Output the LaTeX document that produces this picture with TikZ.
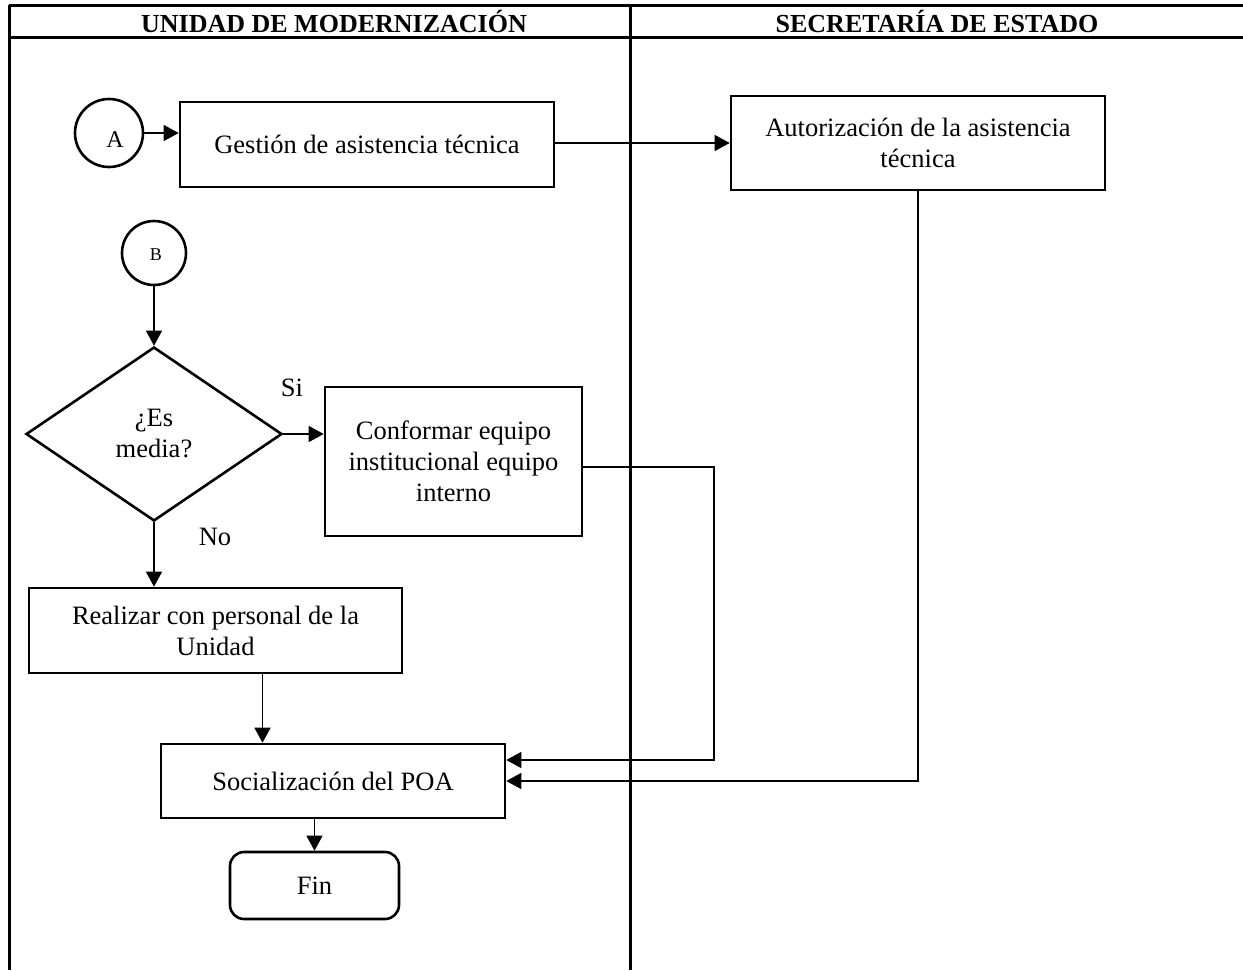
\documentclass[tikz,border=0pt]{standalone}
\usepackage{fontspec}
\setmainfont{Liberation Serif}
\usetikzlibrary{shapes.geometric,arrows.meta,calc}
\begin{document}
\begin{tikzpicture}[x=1pt,y=-1pt,
  every node/.style={font=\fontsize{26.5}{31}\selectfont, inner sep=0pt},
  box/.style={draw, line width=2.6pt, rectangle, align=center},
  circ/.style={draw, line width=2.6pt, circle},
  arr/.style={line width=1.3pt, -{Triangle[length=15pt,width=16pt]}},
  lane/.style={line width=3pt},
  hdr/.style={font=\fontsize{26}{30}\selectfont\bfseries}
]
\useasboundingbox (0,0) rectangle (1243,970);
% table
\draw[lane] (9,5) -- (1243,5);
\draw[lane] (9,37) -- (1243,37);
\draw[lane] (9,5) -- (9,970);
\draw[lane] (630,5) -- (630,970);
\node[hdr] (h1) at (334,21) {UNIDAD DE MODERNIZACIÓN};
\node[hdr] (h2) at (937,21) {SECRETARÍA DE ESTADO};
% nodes
\node[circ, minimum size=68pt] (cA) at (109,133) {};
\node[font=\fontsize{24}{28}\selectfont] (tA) at (115,140) {A};
\node[box, minimum width=374pt, minimum height=85pt] (gest) at (367,144.5) {Gestión de asistencia técnica};
\node[box, minimum width=374pt, minimum height=94pt] (aut) at (918,143) {Autorización de la asistencia\\técnica};
\node[circ, minimum size=64pt] (cB) at (154,253) {};
\node[font=\fontsize{18}{22}\selectfont] (tB) at (156,255) {B};
\node[draw, line width=2.6pt, diamond, minimum width=256pt, minimum height=174pt, align=center] (dia) at (154,434) {¿Es\\media?};
\node[box, minimum width=257pt, minimum height=149pt] (conf) at (453.5,461.5) {Conformar equipo\\institucional equipo\\interno};
\node[box, minimum width=373pt, minimum height=85pt] (real) at (215.5,630.5) {Realizar con personal de la\\Unidad};
\node[box, minimum width=344pt, minimum height=74pt] (soc) at (333,781) {Socialización del POA};
\node[box, rounded corners=14pt, minimum width=169pt, minimum height=67pt] (fin) at (314.5,885.5) {Fin};
\node (si) at (292,388) {Si};
\node (no) at (215,537) {No};
% connectors
\draw[arr] (cA.east) -- (gest.west |- cA.east);
\draw[arr] (gest.east |- aut.west) -- (aut.west);
\draw[arr] (cB.south) -- (dia.north);
\draw[arr] (dia.east) -- (dia.east -| conf.west);
\draw[arr] (dia.south) -- (dia.south |- real.north);
\coordinate (k0) at (714,467);
\coordinate (k1) at (714,760);
\draw[arr] (conf.east |- k0) -- (k0) -- (k1) -- (k1 -| soc.east);
\draw[arr] (aut.south) |- (soc.east);
\draw[arr] ([xshift=47pt]real.south) -- ([xshift=47pt]real.south |- soc.north);
\draw[arr] (fin.north |- soc.south) -- (fin.north);
\end{tikzpicture}
\end{document}
